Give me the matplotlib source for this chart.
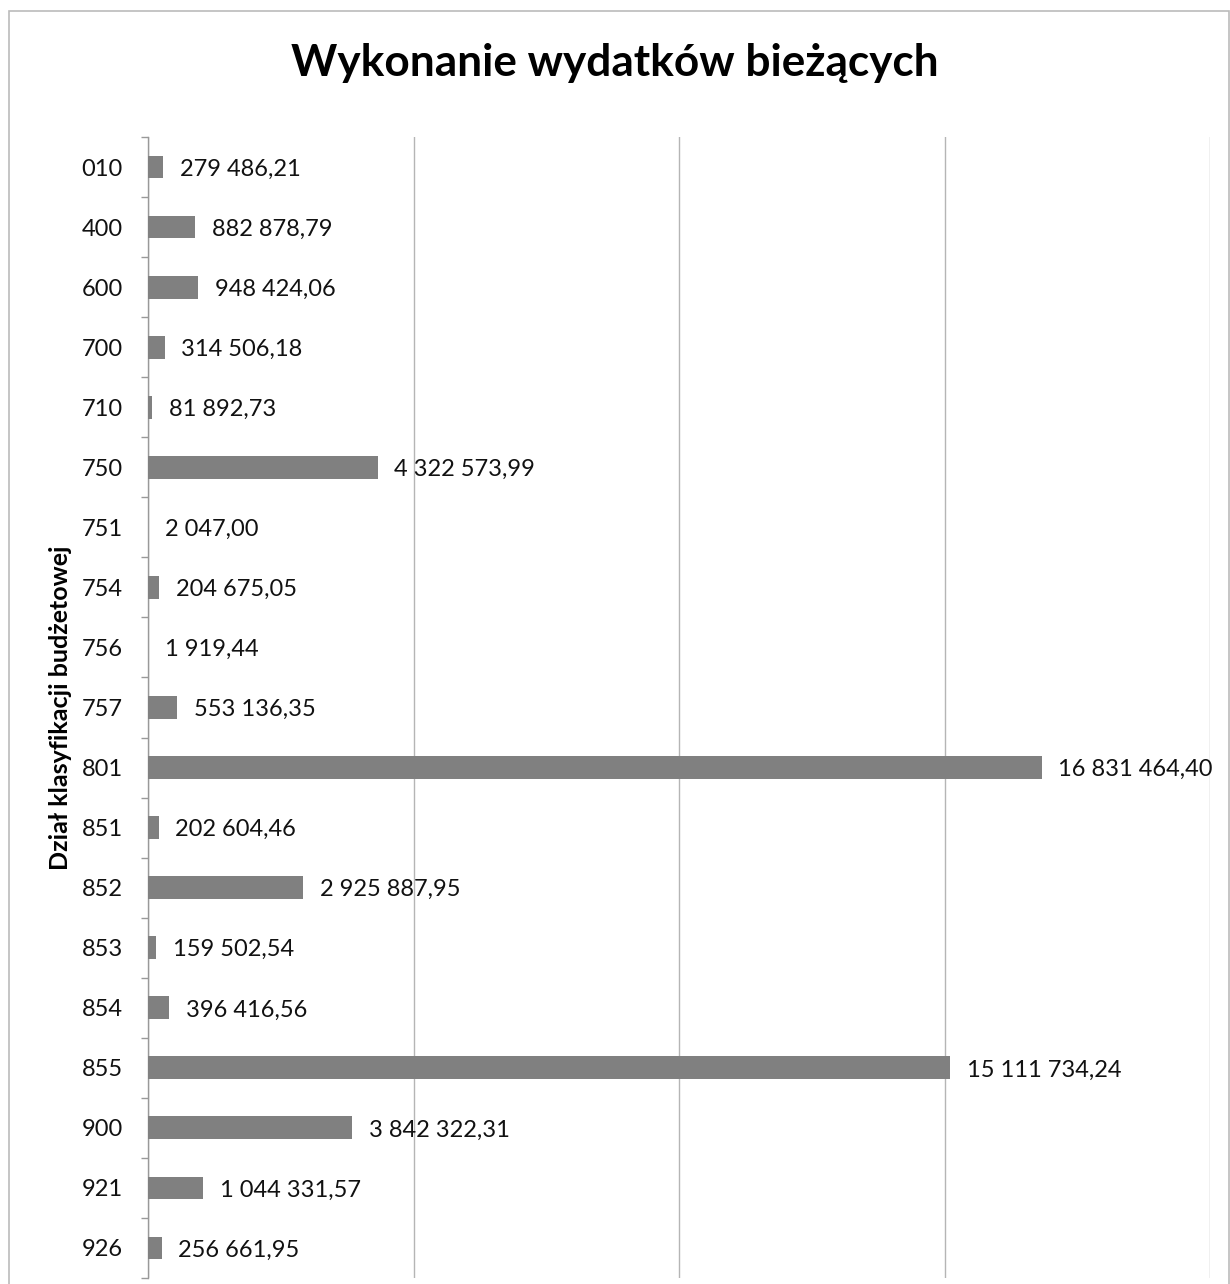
import matplotlib
matplotlib.use("Agg")
import matplotlib.pyplot as plt
from matplotlib.ticker import FixedLocator, MultipleLocator
from matplotlib.patches import Rectangle

categories = ["010", "400", "600", "700", "710", "750", "751", "754", "756", "757",
              "801", "851", "852", "853", "854", "855", "900", "921", "926"]
values = [279486.21, 882878.79, 948424.06, 314506.18, 81892.73, 4322573.99, 2047.00,
          204675.05, 1919.44, 553136.35, 16831464.40, 202604.46, 2925887.95,
          159502.54, 396416.56, 15111734.24, 3842322.31, 1044331.57, 256661.95]
title = "Wykonanie wydatków bieżących"
ylabel = "Dział klasyfikacji budżetowej"
xmax = 20_000_000
grid_step = 5_000_000


def fmt_pl(v):
    s = f"{v:,.2f}"
    return s.replace(",", " ").replace(".", ",")


plt.rcParams['font.family'] = ['Lato', 'DejaVu Sans']

W, H = 1230, 1284
fig = plt.figure(figsize=(W / 100, H / 100), dpi=100)
ax = fig.add_axes([148 / W, 1 - 1278 / H, (1210 - 148) / W, (1278 - 137) / H])

n = len(categories)
ypos = list(range(n))
ax.barh(ypos, values, height=0.38, color="#808080", edgecolor="none", zorder=3)
ax.set_ylim(n - 0.5, -0.5)
ax.set_xlim(0, xmax)

for y, v in zip(ypos, values):
    ax.annotate(fmt_pl(v), xy=(v, y), xytext=(12, -1.5), textcoords="offset points",
                va="center", ha="left", fontsize=17, color="#111111", zorder=4)

ax.set_yticks(ypos)
ax.set_yticklabels(categories, fontsize=17, color="#111111")
ax.yaxis.set_minor_locator(FixedLocator([i - 0.5 for i in range(n + 1)]))
ax.tick_params(axis="y", which="major", length=0, pad=18)
ax.tick_params(axis="y", which="minor", length=5, color="#999999", width=1)
ax.set_xticks([])
ax.xaxis.set_major_locator(MultipleLocator(grid_step))
ax.tick_params(axis="x", length=0, labelbottom=False)
ax.grid(axis="x", color="#b5b5b5", lw=1, zorder=0)

for s in ["top", "right", "bottom"]:
    ax.spines[s].set_visible(False)
ax.spines["left"].set_color("#999999")
ax.spines["left"].set_linewidth(1)

ax.set_ylabel(ylabel, fontsize=18, fontweight="bold")
ax.yaxis.set_label_coords(-0.072, 0.5)

fig.text(0.5, 1 - 63 / H, title, ha="center", va="center", fontsize=31.8, fontweight="bold")

fig.patches.append(Rectangle((9 / W, -0.01), (1229 - 9) / W, 1 - 11 / H + 0.01,
                             transform=fig.transFigure, fill=False,
                             edgecolor="#bbbbbb", lw=1.2))

fig.savefig("out.png", dpi=100)
